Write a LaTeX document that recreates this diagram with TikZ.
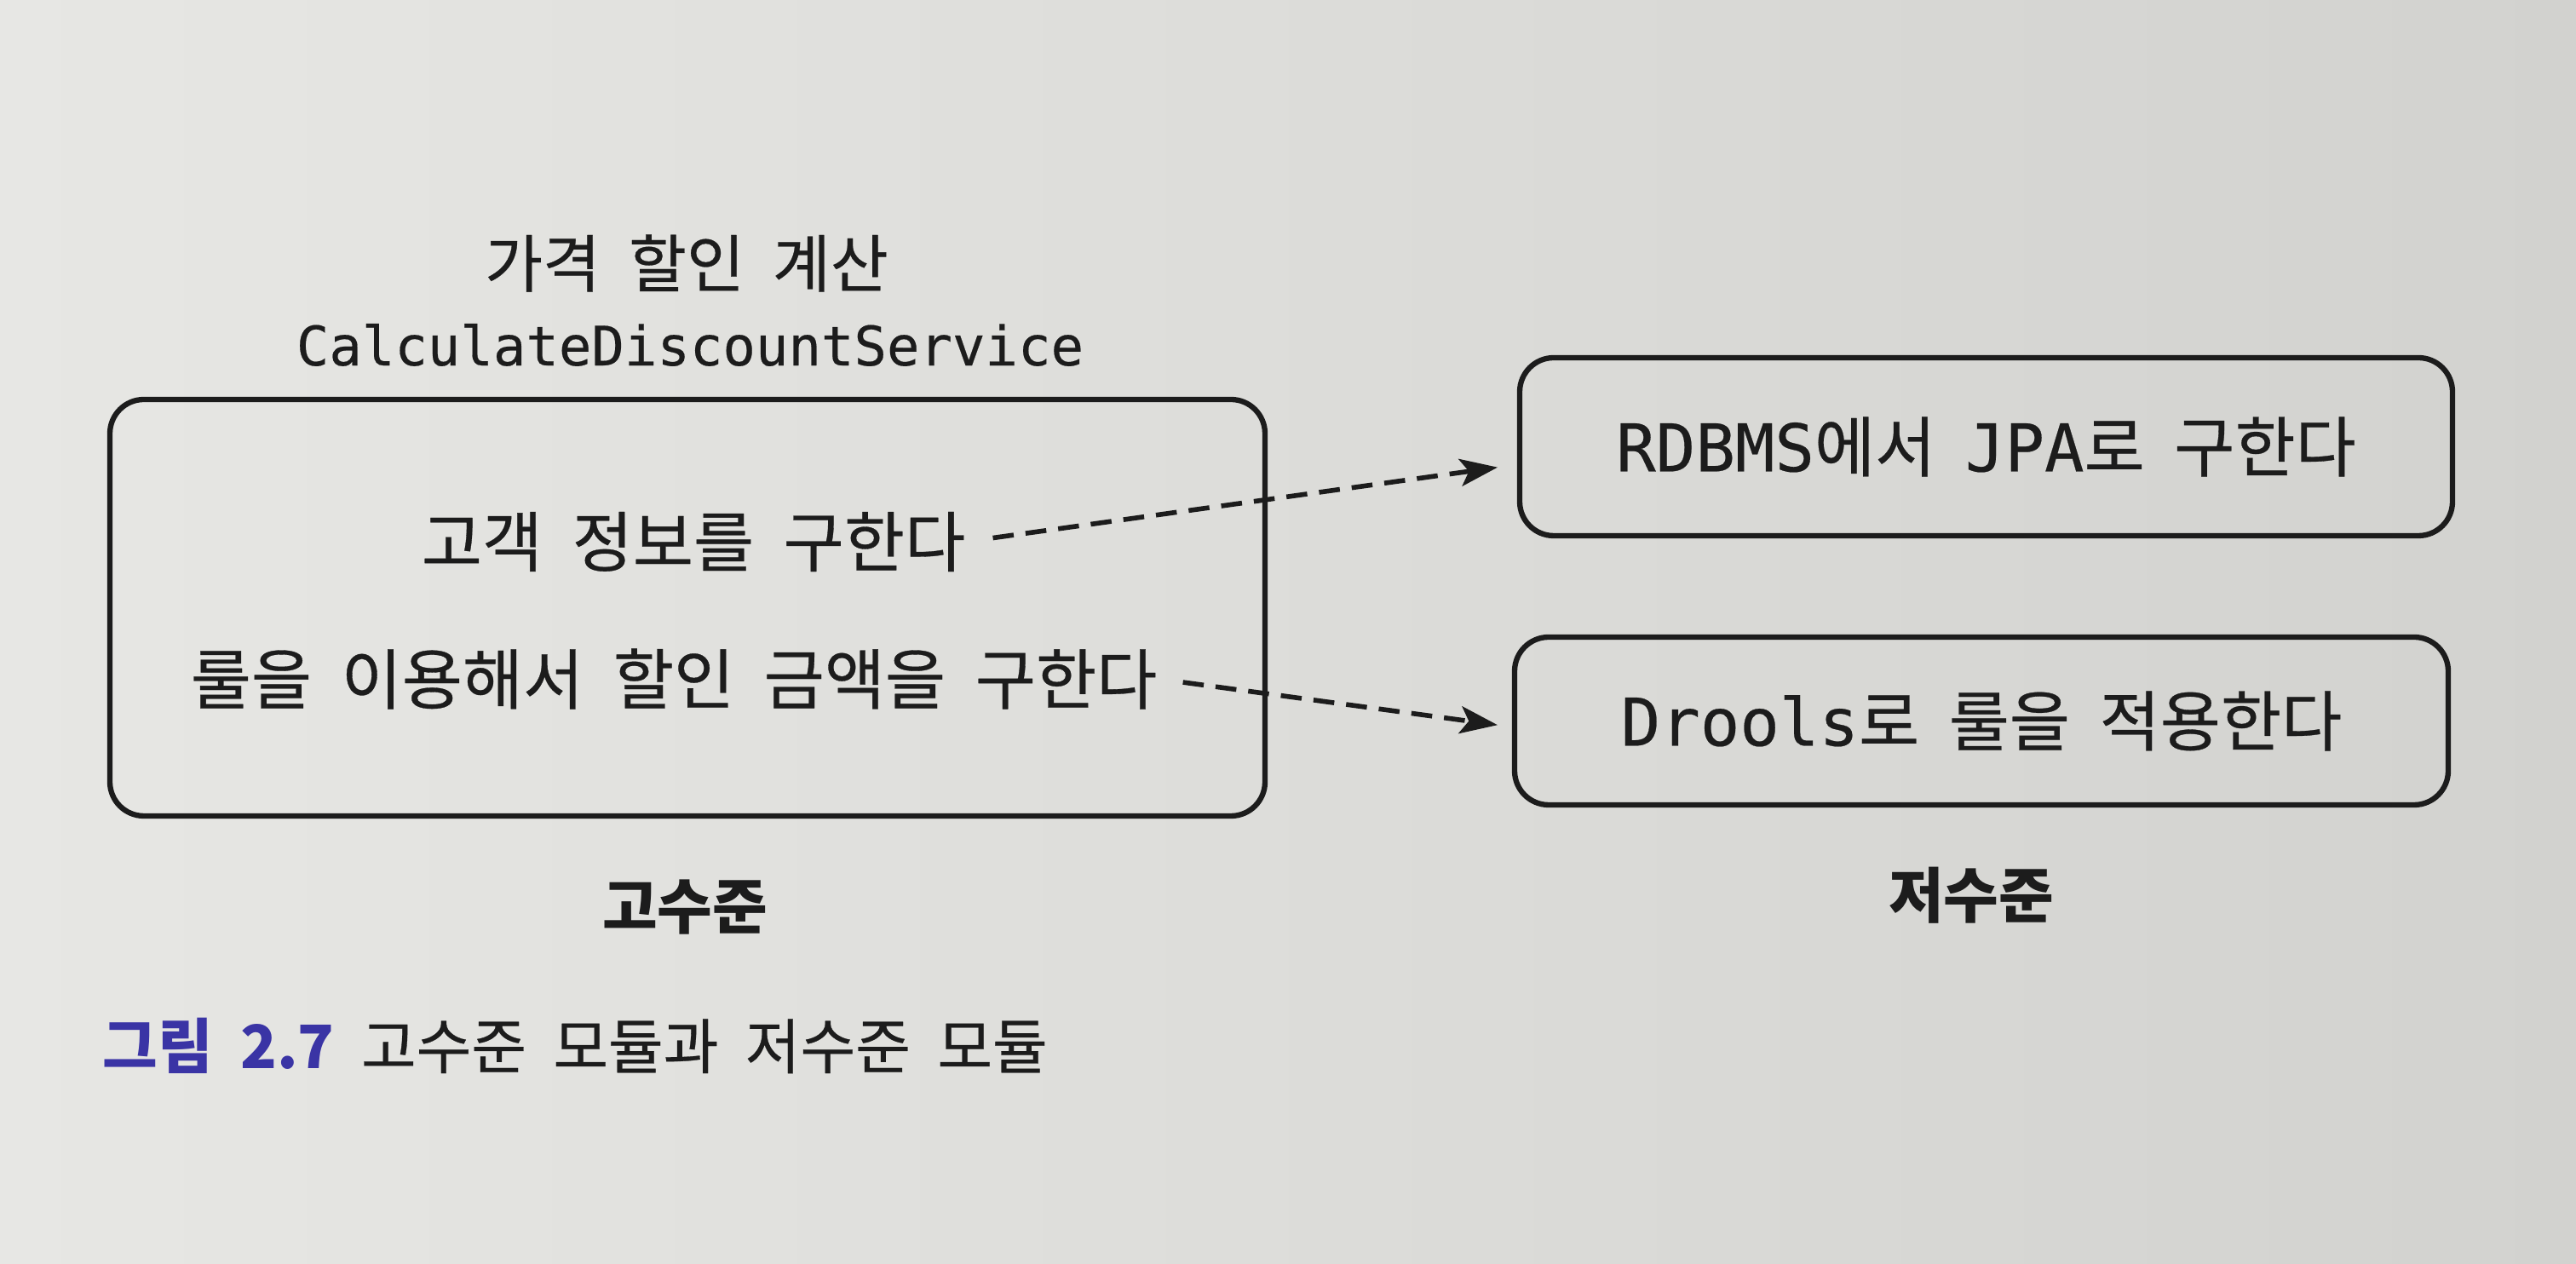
\documentclass[tikz,border=0pt]{standalone}
\usepackage{fontspec}
\setmainfont{Noto Sans CJK KR}[WordSpace=2.0, UprightFeatures={FakeBold=0.4}]
\newfontfamily\monof{DejaVu Sans Mono}[UprightFeatures={FakeBold=0.3}]
\usetikzlibrary{arrows.meta,calc}
\definecolor{paperL}{RGB}{231,231,228}
\definecolor{paperR}{RGB}{210,210,207}
\definecolor{ink}{RGB}{28,28,28}
\definecolor{capblue}{RGB}{58,52,165}
\begin{document}
\begin{tikzpicture}[
  box/.style={draw=ink, line width=1.8pt, rounded corners=0.4cm, inner sep=0pt},
  txt/.style={text=ink, inner sep=0pt, font=\fontsize{22pt}{26pt}\selectfont},
  title/.style={text=ink, inner sep=0pt, font=\fontsize{21pt}{25pt}\selectfont},
  monotitle/.style={text=ink, inner sep=0pt, font=\monof\fontsize{18.2pt}{22pt}\selectfont},
  level/.style={text=ink, inner sep=0pt, font=\bfseries\fontsize{20pt}{24pt}\selectfont},
  conn/.style={draw=ink, line width=1.6pt, dash pattern=on 7pt off 4pt,
    -{Stealth[length=0.44cm,width=0.32cm,inset=0.1cm]}}
]
\shade[left color=paperL, right color=paperR] (0,0) rectangle (30.24,14.84);
\useasboundingbox (0,0) rectangle (30.24,14.84);

% titles
\node[title] (t1) at (8.06,11.75) {가격 할인 계산};
\node[monotitle] (t2) at (8.10,10.79) {CalculateDiscountService};

% high-level box
\node[box, minimum width=13.56cm, minimum height=4.89cm] (hb) at (8.07,7.705) {};
\node[txt] (l1) at (8.14,8.48) {고객 정보를 구한다};
\node[txt] (l2) at (7.91,6.87) {룰을 이용해서 할인 금액을 구한다};

% low-level boxes
\node[box, txt, draw=ink, minimum width=10.95cm, minimum height=2.09cm] (r1) at (23.315,9.595)
  {{\monof RDBMS}에서 {\monof JPA}로 구한다};
\node[box, txt, draw=ink, minimum width=10.96cm, minimum height=1.97cm] (r2) at (23.26,6.375)
  {{\monof Drools}로 룰을 적용한다};

% level labels
\node[level] (hl) at (8.04,4.19) {고수준};
\node[level] (ll) at (23.14,4.33) {저수준};

% connectors
\draw[conn, shorten <=0.32cm, shorten >=0.23cm] (l1.east) -- ([yshift=-0.21cm]r1.west);
\draw[conn, shorten <=0.3cm, shorten >=0.17cm] (l2.east) -- ([yshift=-0.07cm]r2.west);

% caption
\node[anchor=west, inner sep=0pt, text=ink, font=\fontsize{20pt}{24pt}\selectfont] (cap) at (1.20,2.56)
  {{\bfseries\color{capblue}그림 2.7} 고수준 모듈과 저수준 모듈};
\end{tikzpicture}
\end{document}
